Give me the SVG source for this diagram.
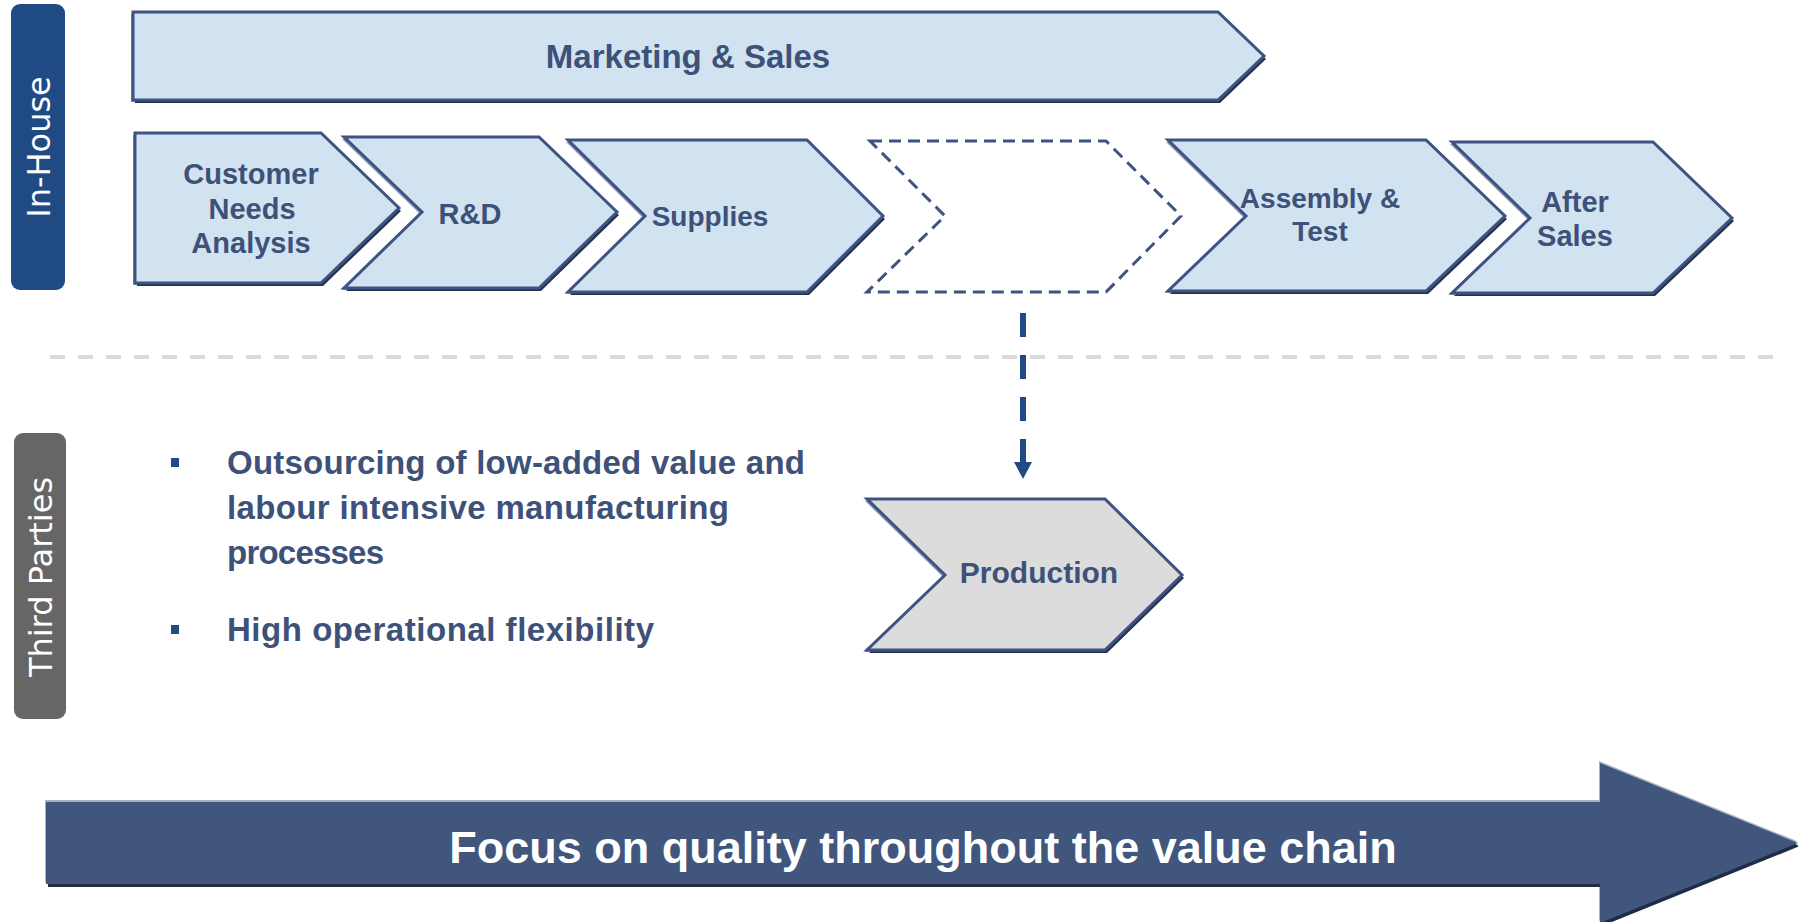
<svg xmlns="http://www.w3.org/2000/svg" width="1798" height="922" viewBox="0 0 1798 922">
  <style>
    .lbl { font-family: "Liberation Sans", Arial, sans-serif; font-weight: bold; fill: #3D5179; text-anchor: middle; }
    .side { font-family: "DejaVu Sans", Verdana, sans-serif; fill: #FFFFFF; font-size: 32px; text-anchor: middle; }
    .bul { font-family: "Liberation Sans", Arial, sans-serif; font-weight: bold; fill: #3D5179; font-size: 33px; }
    .chev { fill: #D1E3F1; stroke: #3E5382; stroke-width: 3; stroke-linejoin: miter; }
    .shade { fill: #24324D; }
    .light { fill: #8E9CB6; }
  </style>
  <defs>
    <!-- chevron shapes reused for the shadow copies -->
    <polygon id="shpCust" points="135,133 321,133 399,208 321,283 135,283"/>
    <polygon id="shpRD" points="344,137 539,137 617,212 539,288 344,288 422,212"/>
    <polygon id="shpSup" points="568,140 807,140 883,216 807,292 568,292 645,216"/>
    <polygon id="shpAsm" points="1168,140 1426,140 1505,216 1426,291 1168,291 1246,216"/>
    <polygon id="shpAft" points="1452,142 1653,142 1732,218 1653,293 1452,293 1530,218"/>
    <polygon id="shpProd" points="867,499 1105,499 1182,575 1105,650 867,650 945,575"/>
    <polygon id="shpMkt" points="133,12 1218,12 1264,56 1218,100 133,100"/>
  </defs>

  <!-- side labels -->
  <g id="inHouse">
    <rect x="11" y="4" width="54" height="286" rx="9" fill="#1F4A84"/>
    <text class="side" transform="translate(50,147) rotate(-90)">In-House</text>
  </g>
  <g id="thirdParties">
    <rect x="14" y="433" width="52" height="286" rx="9" fill="#666666"/>
    <text class="side" transform="translate(52,577) rotate(-90)">Third Parties</text>
  </g>

  <!-- divider between in-house and third parties -->
  <line x1="50" y1="357" x2="1776" y2="357" stroke="#DADADA" stroke-width="4" stroke-dasharray="15 13"/>

  <g id="marketingSales">
    <use href="#shpMkt" class="light" transform="translate(-2,2)"/>
    <use href="#shpMkt" class="shade" transform="translate(2,3)"/>
    <use href="#shpMkt" class="chev"/>
    <text class="lbl" x="688" y="68" font-size="33">Marketing &amp; Sales</text>
  </g>

  <g id="customerNeeds">
    <use href="#shpCust" class="light" transform="translate(-2,2)"/>
    <use href="#shpCust" class="shade" transform="translate(2,3)"/>
    <use href="#shpCust" class="chev"/>
    <text class="lbl" x="251" y="184" font-size="29">Customer</text>
    <text class="lbl" x="252" y="219" font-size="29">Needs</text>
    <text class="lbl" x="251" y="253" font-size="29">Analysis</text>
  </g>

  <g id="rd">
    <use href="#shpRD" class="light" transform="translate(-2,2)"/>
    <use href="#shpRD" class="shade" transform="translate(2,3)"/>
    <use href="#shpRD" class="chev"/>
    <text class="lbl" x="470" y="224" font-size="29">R&amp;D</text>
  </g>

  <g id="supplies">
    <use href="#shpSup" class="light" transform="translate(-2,2)"/>
    <use href="#shpSup" class="shade" transform="translate(2,3)"/>
    <use href="#shpSup" class="chev"/>
    <text class="lbl" x="710" y="226" font-size="28">Supplies</text>
  </g>

  <g id="productionSlot">
    <polygon points="870,141 1106,141 1181,216 1106,292 867,292 945,216" fill="#FFFFFF" stroke="#3E5382" stroke-width="3" stroke-dasharray="12 7"/>
  </g>

  <g id="assemblyTest">
    <use href="#shpAsm" class="light" transform="translate(-2,2)"/>
    <use href="#shpAsm" class="shade" transform="translate(2,3)"/>
    <use href="#shpAsm" class="chev"/>
    <text class="lbl" x="1320" y="208" font-size="28">Assembly &amp;</text>
    <text class="lbl" x="1320" y="241" font-size="28">Test</text>
  </g>

  <g id="afterSales">
    <use href="#shpAft" class="light" transform="translate(-2,2)"/>
    <use href="#shpAft" class="shade" transform="translate(2,3)"/>
    <use href="#shpAft" class="chev"/>
    <text class="lbl" x="1575" y="212" font-size="29">After</text>
    <text class="lbl" x="1575" y="246" font-size="29">Sales</text>
  </g>

  <g id="production">
    <use href="#shpProd" class="light" transform="translate(-2,2)"/>
    <use href="#shpProd" class="shade" transform="translate(2,3)"/>
    <use href="#shpProd" class="chev" style="fill:#DCDCDC"/>
    <text class="lbl" x="1039" y="583" font-size="30">Production</text>
  </g>

  <g id="connectors">
    <line x1="1023" y1="313" x2="1023" y2="463" stroke="#1F4A84" stroke-width="6" stroke-dasharray="24 18"/>
    <polygon points="1014,462 1032,462 1023,479" fill="#1F4A84"/>
  </g>

  <g id="notes">
    <rect x="171" y="458" width="8" height="9" fill="#1F4A84"/>
    <text class="bul" x="227" y="474" textLength="578">Outsourcing of low-added value and</text>
    <text class="bul" x="227" y="519" textLength="502">labour intensive manufacturing</text>
    <text class="bul" x="227" y="564" textLength="157">processes</text>
    <rect x="171" y="625" width="8" height="9" fill="#1F4A84"/>
    <text class="bul" x="227" y="641" textLength="427">High operational flexibility</text>
  </g>

  <g id="qualityArrow">
    <polygon points="46,802 1600,802 1600,763 1798,843 1600,923 1600,884 46,884" fill="#A9B2C4" transform="translate(-1,-2)"/>
    <polygon points="46,802 1600,802 1600,763 1798,843 1600,923 1600,884 46,884" fill="#202C44" transform="translate(2,3)"/>
    <polygon points="46,802 1600,802 1600,763 1798,843 1600,923 1600,884 46,884" fill="#41567D"/>
    <text x="923" y="863" font-family="Liberation Sans, Arial, sans-serif" font-weight="bold" font-size="45" fill="#FFFFFF" text-anchor="middle">Focus on quality throughout the value chain</text>
  </g>
</svg>
